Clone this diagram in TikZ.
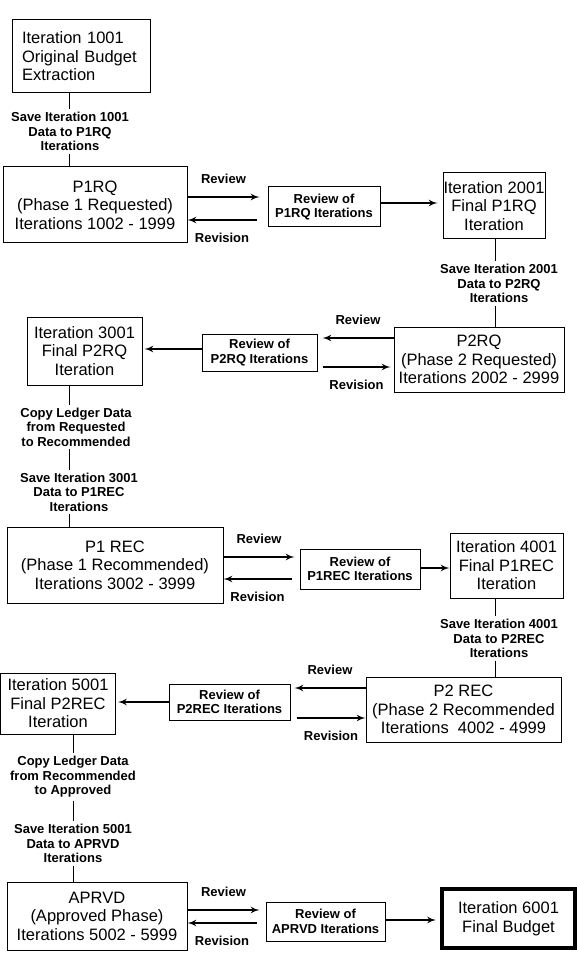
\documentclass[tikz,border=0pt]{standalone}
\usepackage{fontspec}
\setmainfont{Liberation Sans}
\usetikzlibrary{arrows}
\newcommand{\boxfont}{\fontsize{16.5}{18.5}\selectfont}
\newcommand{\notefont}{\fontsize{13}{14.5}\selectfont\bfseries}
\tikzset{box/.style={ % Sets the properties for each iteration box
draw, line width=1pt,
align=center, inner sep=0pt,
font=\boxfont},
reviewbox/.style={ % Small boxes between the phases
draw, line width=1pt,
align=center, inner sep=0pt,
font=\notefont},
note/.style={align=center, inner sep=3pt, font=\notefont}, % Texts on the vertical links
lbl/.style={inner sep=2pt, font=\notefont}, % Review / Revision
flow/.style={->, >=latex', line width=2pt}, % Heavy arrows with filled heads
link/.style={line width=1pt}}

\begin{document}
\begin{tikzpicture}[x=1pt, y=-1pt]
    \useasboundingbox (0,0) rectangle (577,957);

    \coordinate (spineL) at (69.5,0);
    \coordinate (spineR) at (495.5,0);
    \coordinate (spineA) at (73,0);

    \node[box, align=left, text width=118pt, inner xsep=10pt, minimum height=73pt] (b1001) at (81,56.5) {Iteration 1001\\Original Budget\\Extraction};
    \node[note] (s1001) at (70,131.5) {Save Iteration 1001\\Data to P1RQ\\Iterations};
    \node[box, minimum width=184pt, minimum height=76pt] (p1rq) at (95,205) {P1RQ\\(Phase 1 Requested)\\Iterations 1002 - 1999};
    \node[reviewbox, minimum width=112pt, minimum height=40pt] (rv1) at (324,207) {Review of\\P1RQ Iterations};
    \node[box, minimum width=102pt, minimum height=66pt] (b2001) at (494,206) {Iteration 2001\\Final P1RQ\\Iteration};
    \node[note] (s2001) at (499,283.5) {Save Iteration 2001\\Data to P2RQ\\Iterations};

    \node[box, minimum width=170pt, minimum height=65pt] (p2rq) at (479,359.5) {P2RQ\\(Phase 2 Requested)\\Iterations 2002 - 2999};
    \node[reviewbox, minimum width=115pt, minimum height=37pt] (rv2) at (259.5,352.5) {Review of\\P2RQ Iterations};
    \node[box, minimum width=115pt, minimum height=68pt] (b3001) at (84.5,351) {Iteration 3001\\Final P2RQ\\Iteration};
    \node[note] (c3001) at (76,427) {Copy Ledger Data\\from Requested\\to Recommended};
    \node[note] (s3001) at (79,492) {Save Iteration 3001\\Data to P1REC\\Iterations};

    \node[box, minimum width=216pt, minimum height=76pt] (p1rec) at (115,565) {P1 REC\\(Phase 1 Recommended)\\Iterations 3002 - 3999};
    \node[reviewbox, minimum width=120pt, minimum height=40pt] (rv3) at (360,569) {Review of\\P1REC Iterations};
    \node[box, minimum width=113pt, minimum height=65pt] (b4001) at (506.5,565.5) {Iteration 4001\\Final P1REC\\Iteration};
    \node[note] (s4001) at (499,638.5) {Save Iteration 4001\\Data to P2REC\\Iterations};

    \node[box, minimum width=195pt, minimum height=65pt] (p2rec) at (463.5,709.5) {P2 REC\\(Phase 2 Recommended\\Iterations\ \ 4002 - 4999};
    \node[reviewbox, minimum width=121pt, minimum height=36pt] (rv4) at (229.5,702) {Review of\\P2REC Iterations};
    \node[box, minimum width=115pt, minimum height=61pt] (b5001) at (58,703.5) {Iteration 5001\\Final P2REC\\Iteration};
    \node[note] (c5001) at (73,777) {Copy Ledger Data\\from Recommended\\to Approved};
    \node[note] (s5001) at (73,843.5) {Save Iteration 5001\\Data to APRVD\\Iterations};

    \node[box, minimum width=180pt, minimum height=68pt] (aprvd) at (97,916) {APRVD\\(Approved Phase)\\Iterations 5002 - 5999};
    \node[reviewbox, minimum width=119pt, minimum height=39pt] (rv5) at (325.5,921.5) {Review of\\APRVD Iterations};
    \node[box, line width=4pt, minimum width=133pt, minimum height=59pt] (b6001) at (508.5,918.5) {Iteration 6001\\Final Budget};

    \draw[link] (b1001.south -| spineL) -- (s1001.north -| spineL);
    \draw[link] (s1001.south -| spineL) -- (p1rq.north -| spineL);
    \draw[link] (b2001.south -| spineR) -- (s2001.north -| spineR);
    \draw[link] (s2001.south -| spineR) -- (p2rq.north -| spineR);
    \draw[link] (b3001.south -| spineL) -- (c3001.north -| spineL);
    \draw[link] (c3001.south -| spineL) -- (s3001.north -| spineL);
    \draw[link] (s3001.south -| spineL) -- (p1rec.north -| spineL);
    \draw[link] (b4001.south -| spineR) -- (s4001.north -| spineR);
    \draw[link] (s4001.south -| spineR) -- (p2rec.north -| spineR);
    \draw[link] (b5001.south -| spineA) -- (c5001.north -| spineA);
    \draw[link] (c5001.south -| spineA) -- (s5001.north -| spineA);
    \draw[link] (s5001.south -| spineA) -- (aprvd.north -| spineA);

    \draw[flow] ([yshift=8pt]p1rq.east) -- node[lbl, above=10pt] {Review} ([xshift=-8pt, yshift=10pt]rv1.west);
    \draw[flow] ([xshift=-11pt, yshift=-13pt]rv1.west) -- node[lbl, below=10.5pt] {Revision} ([yshift=-15pt]p1rq.east);
    \draw[flow] ([yshift=4pt]rv1.east) -- ([xshift=-5pt, yshift=3pt]b2001.west);

    \draw[flow] ([yshift=21.5pt]p2rq.west) -- node[lbl, above=10pt] {Review} ([xshift=5pt, yshift=14.5pt]rv2.east);
    \draw[flow] ([xshift=5pt, yshift=-14.5pt]rv2.east) -- node[lbl, below=10.5pt] {Revision} ([xshift=-3pt, yshift=-7.5pt]p2rq.west);
    \draw[flow] ([yshift=3.5pt]rv2.west) -- ([xshift=2pt, yshift=2pt]b3001.east);

    \draw[flow] ([yshift=8pt]p1rec.east) -- node[lbl, above=10pt] {Review} ([xshift=-5pt, yshift=12pt]rv3.west);
    \draw[flow] ([xshift=-8pt, yshift=-10pt]rv3.west) -- node[lbl, below=10.5pt] {Revision} ([yshift=-14pt]p1rec.east);
    \draw[flow] ([yshift=1pt]rv3.east) -- ([yshift=-2.5pt]b4001.west);

    \draw[flow] ([yshift=21.5pt]p2rec.west) -- node[lbl, above=10pt] {Review} ([xshift=4pt, yshift=14pt]rv4.east);
    \draw[flow] ([xshift=6pt, yshift=-16pt]rv4.east) -- node[lbl, below=10.5pt] {Revision} ([yshift=-8.5pt]p2rec.west);
    \draw[flow] (rv4.west) -- ([xshift=2pt, yshift=1.5pt]b5001.east);

    \draw[flow] ([yshift=6pt]aprvd.east) -- node[lbl, above=10pt] {Review} ([xshift=-6pt, yshift=11.5pt]rv5.west);
    \draw[flow] ([xshift=-9pt, yshift=-1.5pt]rv5.west) -- node[lbl, below=10.5pt] {Revision} ([yshift=-7pt]aprvd.east);
    \draw[flow] ([yshift=1.5pt]rv5.east) -- ([xshift=-4pt, yshift=-1.5pt]b6001.west);

\end{tikzpicture}
\end{document}
